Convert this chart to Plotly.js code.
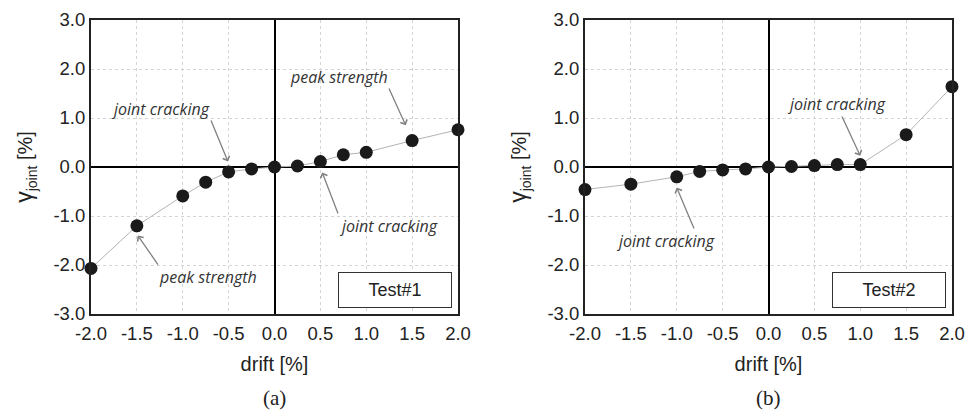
<!DOCTYPE html>
<html>
<head>
<meta charset="utf-8">
<script src="https://cdn.plot.ly/plotly-3.0.1.min.js"></script>
<style>html,body{margin:0;padding:0;background:#fff;}#chart{width:966px;height:414px;}</style>
</head>
<body>
<div id="chart"></div>
<script>
// drift [%]
const drift = [-2.0, -1.5, -1.0, -0.75, -0.5, -0.25, 0.0, 0.25, 0.5, 0.75, 1.0, 1.5, 2.0];
// gamma_joint [%]
const gammaTest1 = [-2.07, -1.20, -0.59, -0.31, -0.10, -0.04, 0.0, 0.02, 0.11, 0.25, 0.30, 0.54, 0.76];
const gammaTest2 = [-0.46, -0.35, -0.20, -0.09, -0.06, -0.04, 0.0, 0.01, 0.03, 0.05, 0.05, 0.66, 1.64];
// tick labels
const xTickVals = [-2.0, -1.5, -1.0, -0.5, 0.0, 0.5, 1.0, 1.5, 2.0];
const xTickText = ["-2.0", "-1.5", "-1.0", "-0.5", "0.0", "0.5", "1.0", "1.5", "2.0"];
const yTickVals = [-3, -2, -1, 0, 1, 2, 3];
const yTickText = ["-3.0", "-2.0", "-1.0", "0.0", "1.0", "2.0", "3.0"];
const panelLabels = ["(a)", "(b)"];
const testNames = ["Test#1", "Test#2"];

const lineStyle = {color: "#b4b4b4", width: 1};
const markerStyle = {color: "#1a1a1a", size: 13};

const traces = [
  {x: drift, y: gammaTest1, type: "scatter", mode: "lines+markers", line: lineStyle, marker: markerStyle, cliponaxis: false, xaxis: "x", yaxis: "y", showlegend: false},
  {x: drift, y: gammaTest2, type: "scatter", mode: "lines+markers", line: lineStyle, marker: markerStyle, cliponaxis: false, xaxis: "x2", yaxis: "y2", showlegend: false}
];

const tickFont = {family: "Liberation Sans, Arial, sans-serif", size: 18.5, color: "#222"};
const titleFont = {family: "Liberation Sans, Arial, sans-serif", size: 20, color: "#222"};

function xax(domain, anchor) {
  return {
    domain: domain, anchor: anchor, range: [-2, 2], tickmode: "array", tickvals: xTickVals, ticktext: xTickText,
    showgrid: true, gridcolor: "#d4d4d4", griddash: "dot", gridwidth: 1,
    zeroline: true, zerolinecolor: "#000", zerolinewidth: 2,
    showline: true, mirror: true, linecolor: "#222", linewidth: 2,
    ticks: "", tickfont: tickFont, ticklabelstandoff: 2, automargin: false, fixedrange: true,
    title: {text: "drift [%]", font: titleFont, standoff: 14}
  };
}
function yax(domain, anchor) {
  return {
    domain: domain, anchor: anchor, range: [-3, 3], tickmode: "array", tickvals: yTickVals, ticktext: yTickText,
    showgrid: true, gridcolor: "#d4d4d4", griddash: "dot", gridwidth: 1,
    zeroline: true, zerolinecolor: "#000", zerolinewidth: 2,
    showline: true, mirror: true, linecolor: "#222", linewidth: 2,
    ticks: "", tickfont: tickFont, automargin: false, fixedrange: true,
    title: {text: "<span style=\"font-size:23px\">γ</span><sub>joint</sub> [%]", font: titleFont, standoff: 15}
  };
}

const annFont = {family: "Open Sans, sans-serif", size: 16, color: "#333", style: "italic"};
const arrowColor = "#808080";

// label with an arrow: text box anchored at the arrow tail (ax, ay), arrow points to (x, y)
function callout(xr, yr, x, y, ax, ay, text, xanchor, yanchor) {
  return {xref: xr, yref: yr, x: x, y: y, axref: xr, ayref: yr, ax: ax, ay: ay, text: text,
          showarrow: true, arrowhead: 4, arrowsize: 1.1, arrowwidth: 1.3, arrowcolor: arrowColor,
          standoff: 0, startstandoff: 0, font: annFont, xanchor: xanchor, yanchor: yanchor, borderpad: 0};
}
function box(xr, yr, text) {
  return {xref: xr, yref: yr, x: 1.313, y: -2.5, text: text, showarrow: false,
          font: {family: "Liberation Sans, Arial, sans-serif", size: 18, color: "#222"},
          bordercolor: "#333", borderwidth: 1, borderpad: 1, width: 110, height: 32, bgcolor: "#fff",
          xanchor: "center", yanchor: "middle"};
}
const pad = "\u00a0";

const annotations = [
  // panel a
  callout("x", "y", -0.507, 0.11, -0.692, 0.949, "joint cracking", "right", "bottom"),
  callout("x", "y", 1.43, 0.85, 1.248, 1.602, "peak strength", "right", "bottom"),
  callout("x", "y", 0.52, -0.11, 0.692, -0.949, "joint cracking", "left", "top"),
  callout("x", "y", -1.49, -1.40, -1.27, -1.99, "peak strength", "left", "top"),
  box("x", "y", testNames[0]),
  // panel b
  callout("x2", "y2", 1.0, 0.23, 0.801, 1.031, "joint cracking" + pad.repeat(3), "center", "bottom"),
  callout("x2", "y2", -1.0, -0.42, -0.812, -1.255, "joint cracking" + pad.repeat(14), "center", "top"),
  box("x2", "y2", testNames[1]),
  // panel labels
  {xref: "paper", yref: "paper", x: 274.5/966, y: 1 - 398/414, text: panelLabels[0], showarrow: false,
   font: {family: "Liberation Serif, Times New Roman, serif", size: 21, color: "#222"}, xanchor: "center", yanchor: "middle"},
  {xref: "paper", yref: "paper", x: 768/966, y: 1 - 398/414, text: panelLabels[1], showarrow: false,
   font: {family: "Liberation Serif, Times New Roman, serif", size: 21, color: "#222"}, xanchor: "center", yanchor: "middle"}
];

const layout = {
  width: 966, height: 414,
  margin: {l: 0, r: 0, t: 0, b: 0},
  paper_bgcolor: "#fff", plot_bgcolor: "#fff",
  xaxis: xax([91/966, 458/966], "y"),
  yaxis: yax([1 - 314/414, 1 - 20/414], "x"),
  xaxis2: xax([585/966, 952/966], "y2"),
  yaxis2: yax([1 - 314/414, 1 - 20/414], "x2"),
  annotations: annotations,
  showlegend: false
};

Plotly.newPlot("chart", traces, layout, {displayModeBar: false, staticPlot: true});
</script>
</body>
</html>
